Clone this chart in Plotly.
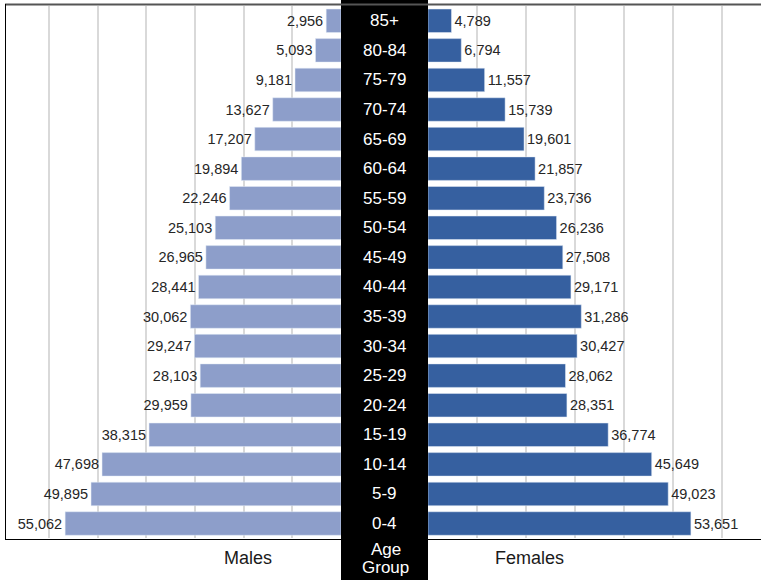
import plotly.graph_objects as go

# ---- data (top to bottom as shown) ----
age_groups = ["85+", "80-84", "75-79", "70-74", "65-69", "60-64", "55-59", "50-54",
              "45-49", "40-44", "35-39", "30-34", "25-29", "20-24", "15-19", "10-14",
              "5-9", "0-4"]
males = [2956, 5093, 9181, 13627, 17207, 19894, 22246, 25103, 26965, 28441,
         30062, 29247, 28103, 29959, 38315, 47698, 49895, 55062]
females = [4789, 6794, 11557, 15739, 19601, 21857, 23736, 26236, 27508, 29171,
           31286, 30427, 28062, 28351, 36774, 45649, 49023, 53651]

W, H = 761, 580
FONT = "Liberation Sans, Arial, sans-serif"
MALE_C = "#8D9ECA"
FEMALE_C = "#3660A0"

def px(x):
    return x / W

def py(y):
    return 1 - y / H

left_max = 67066
right_max = 67959
left_dom = [px(5), px(341)]
right_dom = [px(428), 1.0]
ydom = [py(538.3), py(6.0)]

fig = go.Figure()
fig.add_trace(go.Bar(
    y=age_groups, x=males, orientation="h", marker_color=MALE_C,
    text=[f"{v:,}" for v in males], textposition="outside",
    textfont=dict(family=FONT, size=14.5, color="#262626"),
    constraintext="none", cliponaxis=False,
    xaxis="x", yaxis="y", name="Males", hoverinfo="x+y"))
fig.add_trace(go.Bar(
    y=age_groups, x=females, orientation="h", marker_color=FEMALE_C,
    text=[f"{v:,}" for v in females], textposition="outside",
    textfont=dict(family=FONT, size=14.5, color="#262626"),
    constraintext="none", cliponaxis=False,
    xaxis="x2", yaxis="y2", name="Females", hoverinfo="x+y"))

cat_order = list(reversed(age_groups))
grid = dict(showgrid=True, gridcolor="#D9D9D9", gridwidth=1.5,
            tick0=0, showticklabels=False, zeroline=False, showline=False,
            ticks="")
fig.update_layout(
    width=W, height=H, margin=dict(l=0, r=0, t=0, b=0),
    paper_bgcolor="white", plot_bgcolor="white", showlegend=False,
    bargap=0.205,
    xaxis=dict(domain=left_dom, range=[left_max, 0], anchor="y", dtick=9710, **grid),
    xaxis2=dict(domain=right_dom, range=[0, right_max], anchor="y2", dtick=10000, **grid),
    yaxis=dict(domain=ydom, anchor="x", categoryorder="array",
               categoryarray=cat_order, showticklabels=False, showgrid=False,
               zeroline=False, ticks=""),
    yaxis2=dict(domain=ydom, anchor="x2", categoryorder="array",
                categoryarray=cat_order, showticklabels=False, showgrid=False,
                zeroline=False, ticks=""),
)

shapes = [
    # black centre column
    dict(type="rect", xref="paper", yref="paper", x0=px(341), x1=px(428),
         y0=0, y1=1, fillcolor="black", line=dict(width=0), layer="above"),
    # gridline extensions to the frame
    # top border
    dict(type="line", xref="paper", yref="paper", x0=px(5), x1=1,
         y0=py(4.5), y1=py(4.5), line=dict(color="#555555", width=2)),
    # left border
    dict(type="line", xref="paper", yref="paper", x0=px(5.5), x1=px(5.5),
         y0=py(4), y1=py(539.5), line=dict(color="black", width=1)),
    # bottom borders
    dict(type="line", xref="paper", yref="paper", x0=px(5), x1=px(341),
         y0=py(539.5), y1=py(539.5), line=dict(color="black", width=1.2)),
    dict(type="line", xref="paper", yref="paper", x0=px(428), x1=1,
         y0=py(539.5), y1=py(539.5), line=dict(color="black", width=1.2)),
]
fig.update_layout(shapes=shapes)

annotations = []
for ag in age_groups:
    annotations.append(dict(x=px(384.5), y=ag, xref="paper", yref="y",
                            text=ag, showarrow=False,
                            font=dict(family=FONT, size=17, color="white"),
                            xanchor="center", yanchor="middle"))
annotations += [
    dict(x=px(386), y=py(549), xref="paper", yref="paper", text="Age",
         showarrow=False, font=dict(family=FONT, size=17, color="white"),
         xanchor="center", yanchor="middle"),
    dict(x=px(385.5), y=py(567), xref="paper", yref="paper", text="Group",
         showarrow=False, font=dict(family=FONT, size=17, color="white"),
         xanchor="center", yanchor="middle"),
    dict(x=px(247.5), y=py(558), xref="paper", yref="paper", text="Males",
         showarrow=False, font=dict(family=FONT, size=18, color="#1a1a1a"),
         xanchor="center", yanchor="middle"),
    dict(x=px(529), y=py(558), xref="paper", yref="paper", text="Females",
         showarrow=False, font=dict(family=FONT, size=18, color="#1a1a1a"),
         xanchor="center", yanchor="middle"),
]
fig.update_layout(annotations=annotations)

fig.write_html("out.html")
